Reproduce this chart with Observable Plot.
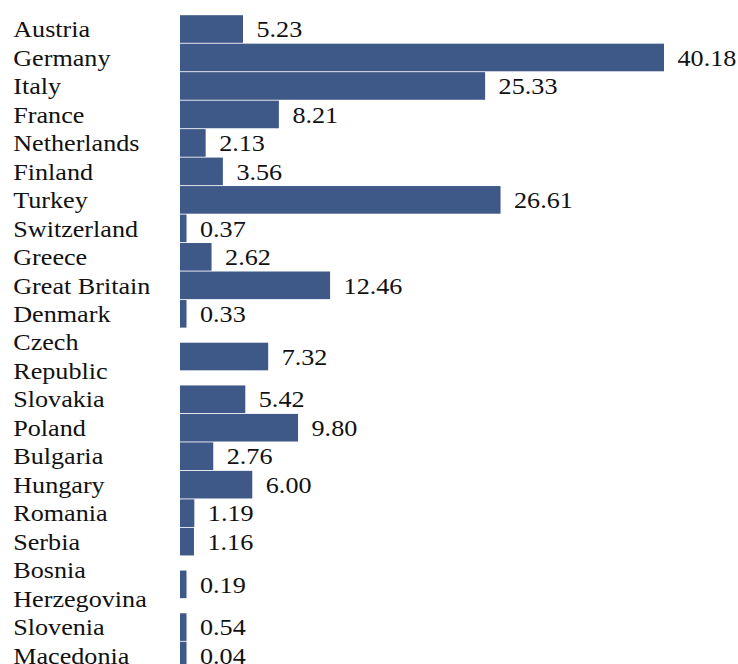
<!DOCTYPE html>
<html>
<head>
<meta charset="utf-8">
<script src="https://cdn.jsdelivr.net/npm/d3@7"></script>
<script src="https://cdn.jsdelivr.net/npm/@observablehq/plot@0.6"></script>
<style>
  html, body { margin: 0; padding: 0; background: #fff; }
  #chart { width: 738px; height: 664px; overflow: hidden; }
</style>
</head>
<body>
<div id="chart"></div>
<script>
const countries = ["Austria","Germany","Italy","France","Netherlands","Finland","Turkey","Switzerland","Greece","Great Britain","Denmark","Czech Republic","Slovakia","Poland","Bulgaria","Hungary","Romania","Serbia","Bosnia Herzegovina","Slovenia","Macedonia"];
const values = [5.23,40.18,25.33,8.21,2.13,3.56,26.61,0.37,2.62,12.46,0.33,7.32,5.42,9.80,2.76,6.00,1.19,1.16,0.19,0.54,0.04];
const labelLines = [["Austria"],["Germany"],["Italy"],["France"],["Netherlands"],["Finland"],["Turkey"],["Switzerland"],["Greece"],["Great Britain"],["Denmark"],["Czech","Republic"],["Slovakia"],["Poland"],["Bulgaria"],["Hungary"],["Romania"],["Serbia"],["Bosnia","Herzegovina"],["Slovenia"],["Macedonia"]];

// style constants
const MIN_BAR = 0.54;      // minimum visible bar length (in value units)
const BAR_HALF = 0.485;    // half bar thickness, in row slots
const FONT = "Liberation Serif";

// build rows: each row occupies as many slots as its label has lines
let slot = 0;
const rows = countries.map((c, i) => {
  const n = labelLines[i].length;
  const r = {country: c, value: values[i], start: slot, center: slot + n / 2, lines: labelLines[i]};
  slot += n;
  return r;
});
const totalSlots = slot;
const lines = rows.flatMap(r => r.lines.map((t, j) => ({text: t, pos: r.start + j + 0.5})));

const slotPx = 28.48, topPx = 14.76;

const chart = Plot.plot({
  width: 738,
  height: 664,
  marginLeft: 180,
  marginRight: 74,
  marginTop: 0,
  marginBottom: 0,
  style: {background: "#fff", fontFamily: FONT},
  x: {domain: [0, d3.max(values)], axis: null},
  y: {domain: [0, totalSlots], range: [topPx, topPx + totalSlots * slotPx], axis: null},
  marks: [
    Plot.rectX(rows, {
      x1: 0,
      x2: d => Math.max(d.value, MIN_BAR),
      y1: d => d.center - BAR_HALF,
      y2: d => d.center + BAR_HALF,
      fill: "#3e5888"
    }),
    Plot.text(rows, {
      x: d => Math.max(d.value, MIN_BAR),
      y: "center",
      text: d => d.value.toFixed(2),
      textAnchor: "start",
      dx: 13,
      fontSize: 24,
      fill: "#111",
      fontFamily: FONT
    }),
    Plot.text(lines, {
      y: "pos",
      text: "text",
      frameAnchor: "left",
      textAnchor: "start",
      dx: -167.3,
      fontSize: 24,
      fill: "#111",
      fontFamily: FONT
    })
  ]
});

document.getElementById("chart").appendChild(chart);
// slight horizontal widening of the glyphs, as in the reference
d3.select(chart).selectAll("text")
  .style("font-family", "'Liberation Serif', serif")
  .each(function() {
    const t = this.getAttribute("transform") || "";
    this.setAttribute("transform", t + " scale(1.09,1)");
  });
</script>
</body>
</html>
